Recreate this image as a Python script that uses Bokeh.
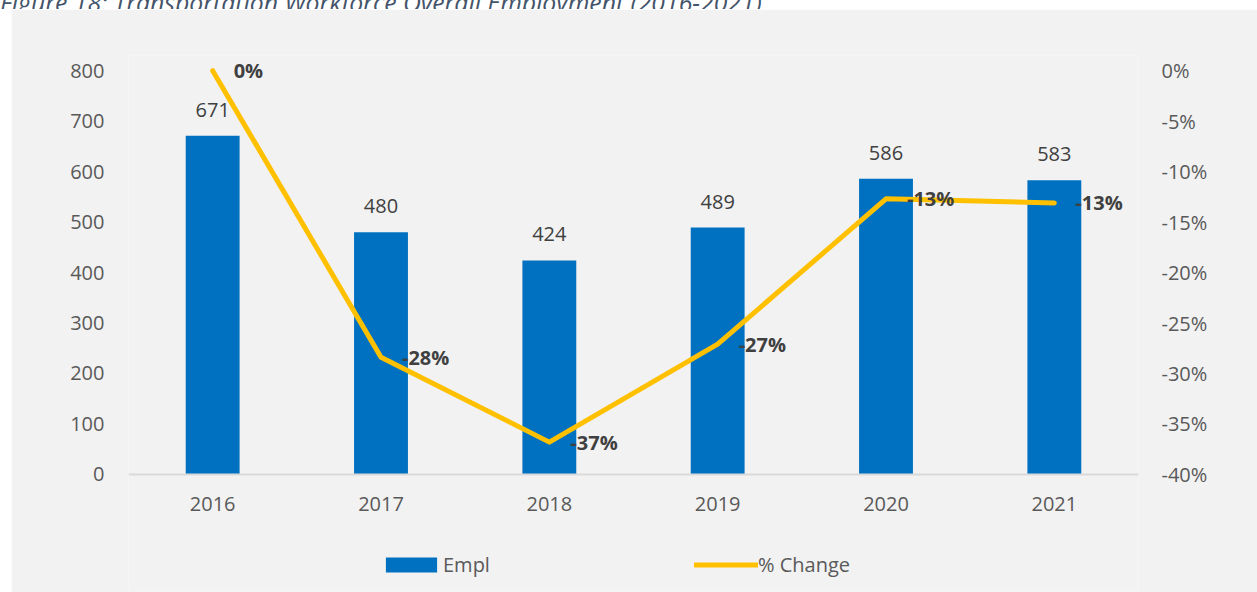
from bokeh.plotting import figure
from bokeh.models import (Range1d, FactorRange, LinearAxis, NumeralTickFormatter,
                          FixedTicker, Legend, LegendItem, ColumnDataSource, Div, Spacer)
from bokeh.layouts import column, row
from bokeh.core.properties import value
from bokeh.embed import file_html
from bokeh.resources import INLINE

title_text = "Figure 18: Transportation Workforce Overall Employment (2016-2021)"
years = ["2016", "2017", "2018", "2019", "2020", "2021"]
empl = [671, 480, 424, 489, 586, 583]
pct_change = [0.0, -0.284, -0.368, -0.271, -0.127, -0.131]
pct_labels = ["0%", "-28%", "-37%", "-27%", "-13%", "-13%"]
empl_labels = [str(v) for v in empl]
empl_ticks = [0, 100, 200, 300, 400, 500, 600, 700, 800]
pct_ticks = [-0.40, -0.35, -0.30, -0.25, -0.20, -0.15, -0.10, -0.05, 0.0]

FONT = "Open Sans"
BG = "#f2f2f2"

src = ColumnDataSource(dict(x=years, empl=empl, pct=pct_change,
                            pl=pct_labels, el=empl_labels))

# extra room below zero holds the category labels and the legend inside the frame;
# a little room above 800 keeps the top data label from being clipped
Y_LO, Y_HI = -230, 830
PCT_PER_UNIT = 0.40 / 800
p = figure(x_range=FactorRange(*years, range_padding=0), y_range=Range1d(Y_LO, Y_HI),
           frame_width=1010, frame_height=535,
           min_border_left=117, min_border_right=119, min_border_top=46, min_border_bottom=2,
           output_backend="svg", toolbar_location=None,
           background_fill_color=BG, border_fill_color=BG, outline_line_color=None)
p.extra_y_ranges = {"pct": Range1d(-0.40 + Y_LO * PCT_PER_UNIT, (Y_HI - 800) * PCT_PER_UNIT)}

bars = p.vbar(x="x", top="empl", width=0.32, source=src, color="#0070C0", line_color=None)
line = p.line(x="x", y="pct", source=src, y_range_name="pct", line_color="#FFC000",
              line_width=5, line_cap="round", line_join="round")

p.text(x="x", y="empl", text="el", source=src, text_font=value(FONT), text_font_size="20px",
       text_color="#404040", text_align="center", text_baseline="alphabetic", y_offset=-26)
p.text(x="x", y="pct", text="pl", source=src, y_range_name="pct", text_font=value(FONT),
       text_font_size="20px", text_font_style="bold", text_color="#404040",
       text_align="left", text_baseline="middle", x_offset=21, y_offset=0)

p.xgrid.visible = False
p.ygrid.visible = False

p.yaxis[0].ticker = FixedTicker(ticks=empl_ticks)

right = LinearAxis(y_range_name="pct", ticker=FixedTicker(ticks=pct_ticks),
                   formatter=NumeralTickFormatter(format="0%"))
p.add_layout(right, "right")

for ax, st in [(p.yaxis[0], 18), (right, 17)]:
    ax.axis_line_color = None
    ax.major_tick_line_color = None
    ax.minor_tick_line_color = None
    ax.major_label_text_font = FONT
    ax.major_label_text_font_size = "20px"
    ax.major_label_text_color = "#595959"
    ax.major_label_standoff = st

xa = p.xaxis[0]
xa.fixed_location = 0
xa.axis_line_color = "#d9d9d9"
xa.axis_line_width = 2
xa.major_tick_line_color = None
xa.minor_tick_line_color = None
xa.major_label_text_font = FONT
xa.major_label_text_font_size = "20px"
xa.major_label_text_color = "#595959"
xa.major_label_standoff = 17

legend = Legend(items=[LegendItem(label="Empl", renderers=[bars]),
                       LegendItem(label="% Change", renderers=[line])],
                orientation="horizontal", location=(251, 12),
                glyph_width=64, glyph_height=19, label_standoff=0, spacing=204,
                label_text_font=FONT, label_text_font_size="20px", label_text_color="#595959",
                background_fill_alpha=0, border_line_alpha=0, margin=0, padding=0)
p.add_layout(legend, "center")

title = Div(text=('<div style="margin-top:-19px; font-family:\'Open Sans\'; font-style:italic; '
                  'font-size:24.8px; line-height:24.8px; color:#44546A; white-space:nowrap;">'
                  + title_text + '</div>'),
            width=1257, height=9, margin=0, styles={"overflow": "hidden"})

layout = column(title, row(Spacer(width=11, height=583), p))

open("out.html", "w").write(file_html(layout, INLINE))
